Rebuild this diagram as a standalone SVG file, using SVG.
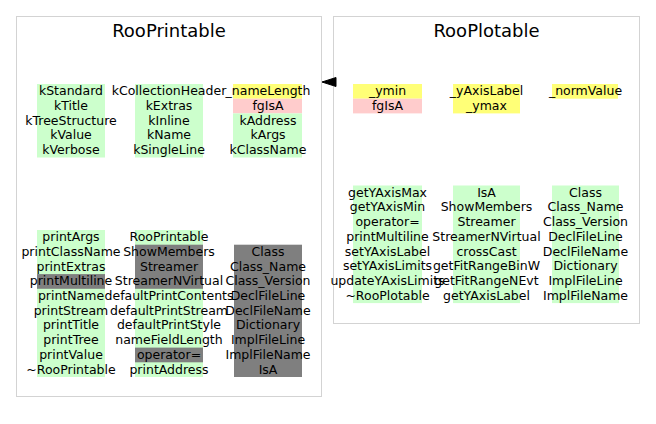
<svg xmlns="http://www.w3.org/2000/svg" width="656" height="424" viewBox="0 0 656 424">
<style>
.panel{fill:#ffffff;stroke:#d3d3d3;stroke-width:1}
.title{font-family:"DejaVu Sans","Liberation Sans",sans-serif;font-size:18px;text-anchor:middle;fill:#000}
text{font-family:"DejaVu Sans","Liberation Sans",sans-serif;font-size:12.5px;text-anchor:middle;fill:#000}
.g{fill:#ccffcc}
.y{fill:#ffff77}
.p{fill:#ffcccc}
.k{fill:#7f7f7f}
</style>
<rect width="656" height="424" fill="#ffffff"/>
<g id="RooPrintable">
<rect class="panel" x="16.5" y="16.5" width="305" height="380"/>
<text class="title" x="169" y="37">RooPrintable</text>
<g id="RooPrintable_enums1">
<rect class="g" x="37" y="84" width="68" height="73.5"/>
<text x="71" y="95.2">kStandard</text>
<text x="71" y="109.9">kTitle</text>
<text x="71" y="124.6">kTreeStructure</text>
<text x="71" y="139.3">kValue</text>
<text x="71" y="154">kVerbose</text>
</g>
<g id="RooPrintable_enums2">
<rect class="g" x="135" y="84" width="68" height="73.5"/>
<text x="169" y="95.2">kCollectionHeader</text>
<text x="169" y="109.9">kExtras</text>
<text x="169" y="124.6">kInline</text>
<text x="169" y="139.3">kName</text>
<text x="169" y="154">kSingleLine</text>
</g>
<g id="RooPrintable_members">
<rect class="y" x="233" y="84" width="69" height="14.7"/>
<rect class="p" x="233" y="98.7" width="69" height="14.7"/>
<rect class="g" x="233" y="113.4" width="69" height="44.1"/>
<text x="268" y="95.2">_nameLength</text>
<text x="268" y="109.9">fgIsA</text>
<text x="268" y="124.6">kAddress</text>
<text x="268" y="139.3">kArgs</text>
<text x="268" y="154">kClassName</text>
</g>
<g id="RooPrintable_methods1">
<rect class="g" x="37" y="230" width="68" height="147"/>
<rect class="k" x="37" y="274.1" width="68" height="14.7"/>
<text x="71" y="241.2">printArgs</text>
<text x="71" y="255.9">printClassName</text>
<text x="71" y="270.6">printExtras</text>
<text x="71" y="285.3">printMultiline</text>
<text x="71" y="300">printName</text>
<text x="71" y="314.7">printStream</text>
<text x="71" y="329.4">printTitle</text>
<text x="71" y="344.1">printTree</text>
<text x="71" y="358.8">printValue</text>
<text x="71" y="373.5">~RooPrintable</text>
</g>
<g id="RooPrintable_methods2">
<rect class="g" x="135" y="230" width="68" height="147"/>
<rect class="k" x="135" y="244.7" width="68" height="44.1"/>
<rect class="k" x="135" y="347.6" width="68" height="14.7"/>
<text x="169" y="241.2">RooPrintable</text>
<text x="169" y="255.9">ShowMembers</text>
<text x="169" y="270.6">Streamer</text>
<text x="169" y="285.3">StreamerNVirtual</text>
<text x="169" y="300">defaultPrintContents</text>
<text x="169" y="314.7">defaultPrintStream</text>
<text x="169" y="329.4">defaultPrintStyle</text>
<text x="169" y="344.1">nameFieldLength</text>
<text x="169" y="358.8">operator=</text>
<text x="169" y="373.5">printAddress</text>
</g>
<g id="RooPrintable_methods3">
<rect class="k" x="234" y="244.7" width="68" height="132.3"/>
<text x="268" y="255.9">Class</text>
<text x="268" y="270.6">Class_Name</text>
<text x="268" y="285.3">Class_Version</text>
<text x="268" y="300">DeclFileLine</text>
<text x="268" y="314.7">DeclFileName</text>
<text x="268" y="329.4">Dictionary</text>
<text x="268" y="344.1">ImplFileLine</text>
<text x="268" y="358.8">ImplFileName</text>
<text x="268" y="373.5">IsA</text>
</g>
</g>
<g id="RooPlotable">
<rect class="panel" x="333.5" y="16.5" width="306" height="307"/>
<text class="title" x="486.5" y="37">RooPlotable</text>
<g id="RooPlotable_members1">
<rect class="y" x="353" y="84" width="69" height="14.7"/>
<rect class="p" x="353" y="98.7" width="69" height="14.7"/>
<text x="387.5" y="95.2">_ymin</text>
<text x="387.5" y="109.9">fgIsA</text>
</g>
<g id="RooPlotable_members2">
<rect class="y" x="453" y="84" width="67" height="29.4"/>
<text x="486.5" y="95.2">_yAxisLabel</text>
<text x="486.5" y="109.9">_ymax</text>
</g>
<g id="RooPlotable_members3">
<rect class="y" x="552" y="84" width="66" height="14.7"/>
<text x="585.5" y="95.2">_normValue</text>
</g>
<g id="RooPlotable_methods1">
<rect class="g" x="353" y="185.5" width="69" height="117.6"/>
<text x="387.5" y="196.7">getYAxisMax</text>
<text x="387.5" y="211.4">getYAxisMin</text>
<text x="387.5" y="226.1">operator=</text>
<text x="387.5" y="240.8">printMultiline</text>
<text x="387.5" y="255.5">setYAxisLabel</text>
<text x="387.5" y="270.2">setYAxisLimits</text>
<text x="387.5" y="284.9">updateYAxisLimits</text>
<text x="387.5" y="299.6">~RooPlotable</text>
</g>
<g id="RooPlotable_methods2">
<rect class="g" x="453" y="185.5" width="67" height="117.6"/>
<text x="486.5" y="196.7">IsA</text>
<text x="486.5" y="211.4">ShowMembers</text>
<text x="486.5" y="226.1">Streamer</text>
<text x="486.5" y="240.8">StreamerNVirtual</text>
<text x="486.5" y="255.5">crossCast</text>
<text x="486.5" y="270.2">getFitRangeBinW</text>
<text x="486.5" y="284.9">getFitRangeNEvt</text>
<text x="486.5" y="299.6">getYAxisLabel</text>
</g>
<g id="RooPlotable_methods3">
<rect class="g" x="552" y="185.5" width="67" height="117.6"/>
<text x="585.5" y="196.7">Class</text>
<text x="585.5" y="211.4">Class_Name</text>
<text x="585.5" y="226.1">Class_Version</text>
<text x="585.5" y="240.8">DeclFileLine</text>
<text x="585.5" y="255.5">DeclFileName</text>
<text x="585.5" y="270.2">Dictionary</text>
<text x="585.5" y="284.9">ImplFileLine</text>
<text x="585.5" y="299.6">ImplFileName</text>
</g>
</g>
<g id="connectors">
<polygon points="322,82 336,77.5 336,86.5" fill="#000000" stroke="#000000" stroke-width="1"/>
</g>
</svg>
